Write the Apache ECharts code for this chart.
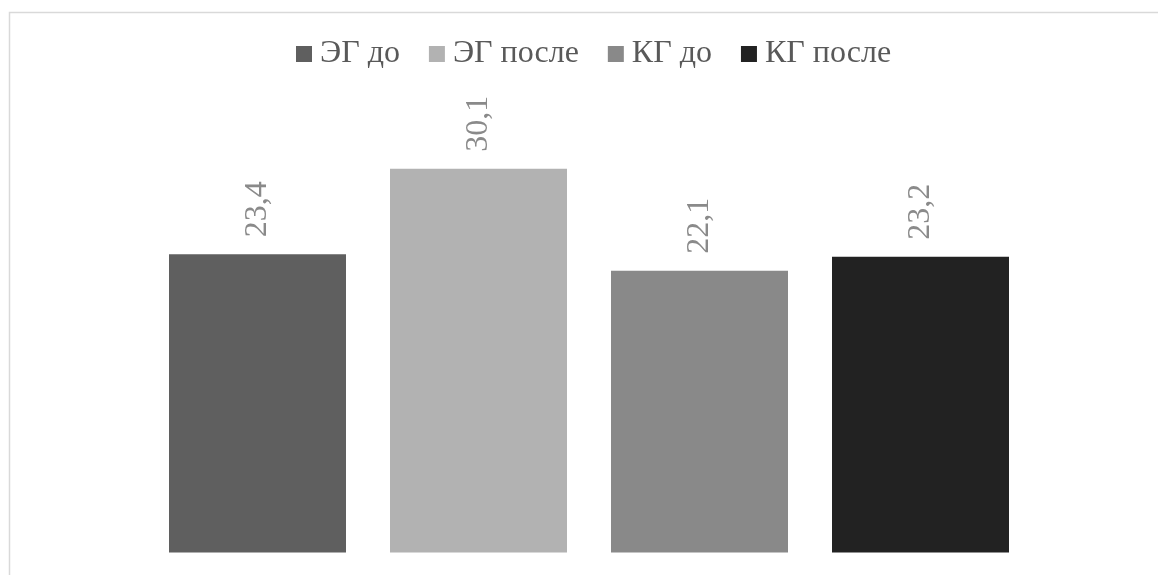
<!DOCTYPE html>
<html>
<head>
<meta charset="utf-8">
<script src="https://cdn.jsdelivr.net/npm/echarts@6/dist/echarts.min.js"></script>
<style>html,body{margin:0;padding:0;background:#fff;}#c{width:1158px;height:575px;}</style>
</head>
<body>
<div id="c"></div>
<script>
const categories = [''];
const seriesNames = ['ЭГ до', 'ЭГ после', 'КГ до', 'КГ после'];
const seriesValues = [23.4, 30.1, 22.1, 23.2];
const seriesColors = ['#5f5f5f', '#b2b2b2', '#898989', '#222222'];

const chart = echarts.init(document.getElementById('c'));
const font = '"Liberation Serif", "Times New Roman", serif';
chart.setOption({
  animation: false,
  backgroundColor: '#ffffff',
  graphic: [{
    type: 'rect', left: 7, top: 10,
    shape: { width: 1200, height: 620 },
    style: { fill: 'none', stroke: '#d9d9d9', lineWidth: 1.5 },
    silent: true
  }],
  legend: {
    left: 291, top: 33,
    itemWidth: 16, itemHeight: 16, itemGap: 29,
    icon: 'rect',
    textStyle: { fontFamily: font, fontSize: 32, color: '#595959', padding: [0, 0, 0, 3] },
    data: seriesNames
  },
  grid: { left: 169, right: 149, top: 106.25, bottom: 22.5, containLabel: false },
  xAxis: {
    type: 'category', data: categories,
    axisLine: { show: false }, axisTick: { show: false }, axisLabel: { show: false },
    splitLine: { show: false }
  },
  yAxis: {
    type: 'value', min: 0, max: 35,
    axisLine: { show: false }, axisTick: { show: false }, axisLabel: { show: false },
    splitLine: { show: false }
  },
  series: seriesNames.map((name, i) => ({
    name: name,
    type: 'bar',
    data: [seriesValues[i]],
    barWidth: 177,
    barGap: '24.86%',
    barCategoryGap: 0,
    itemStyle: { color: seriesColors[i] },
    label: {
      show: true, position: 'top', distance: 17, rotate: 90,
      align: 'left', verticalAlign: 'middle',
      fontFamily: font, fontSize: 32, color: '#8a8a8a',
      formatter: p => String(p.value).replace('.', ',')
    }
  }))
});
</script>
</body>
</html>
